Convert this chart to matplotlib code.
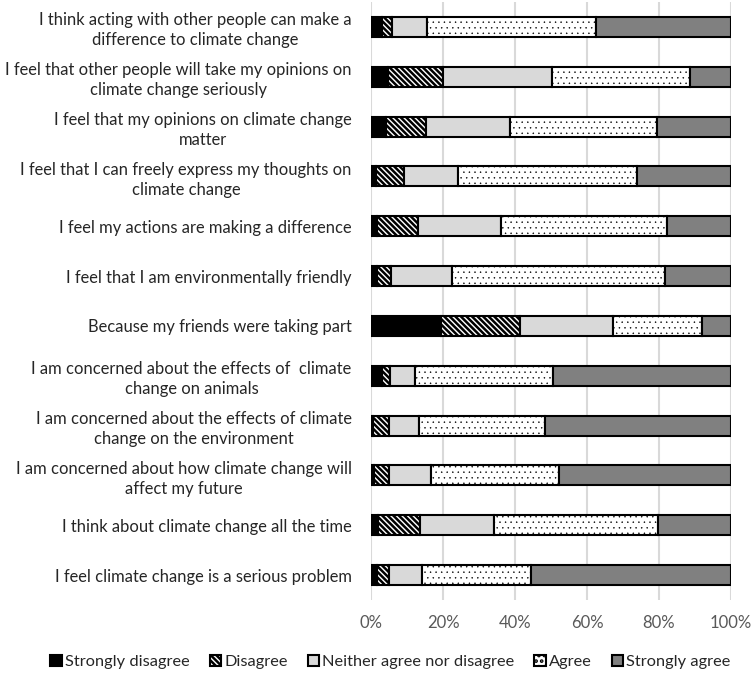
import matplotlib
matplotlib.use("Agg")
import matplotlib.pyplot as plt
import numpy as np

categories = [
    "I think acting with other people can make a\ndifference to climate change",
    "I feel that other people will take my opinions on\nclimate change seriously",
    "I feel that my opinions on climate change\nmatter",
    "I feel that I can freely express my thoughts on\nclimate change",
    "I feel my actions are making a difference",
    "I feel that I am environmentally friendly",
    "Because my friends were taking part",
    "I am concerned about the effects of  climate\nchange on animals",
    "I am concerned about the effects of climate\nchange on the environment",
    "I am concerned about how climate change will\naffect my future",
    "I think about climate change all the time",
    "I feel climate change is a serious problem",
]
series_names = ["Strongly disagree", "Disagree", "Neither agree nor disagree",
                "Agree", "Strongly agree"]
strongly_disagree = [3.0, 4.6, 4.1, 1.3, 1.8, 1.6, 19.4, 3.0, 0.5, 0.9, 2.0, 1.8]
disagree          = [2.7, 15.3, 11.1, 7.8, 11.3, 4.0, 22.0, 2.3, 4.5, 4.0, 11.6, 3.3]
neither           = [9.8, 30.5, 23.4, 15.1, 23.1, 17.0, 25.7, 6.9, 8.2, 11.9, 20.7, 9.1]
agree             = [47.1, 38.2, 40.8, 49.7, 46.1, 59.0, 24.9, 38.4, 35.2, 35.5, 45.3, 30.2]
strongly_agree    = [37.4, 11.4, 20.6, 26.1, 17.7, 18.4, 8.0, 49.4, 51.6, 47.7, 20.4, 55.6]
xticks = [0, 20, 40, 60, 80, 100]
xtick_labels = ["0%", "20%", "40%", "60%", "80%", "100%"]

plt.rcParams['font.family'] = ['Lato', 'DejaVu Sans']
plt.rcParams['hatch.linewidth'] = 1.8
plt.rcParams['hatch.color'] = 'black'

fig = plt.figure(figsize=(7.54, 6.74), dpi=100)
ax = fig.add_axes([371/754, 1 - 600/674, 360/754, 598/674])

data = [strongly_disagree, disagree, neither, agree, strongly_agree]
faces = ["black", "white", "#d9d9d9", "white", "#808080"]
hatches = [None, "\\" * 6, None, "...", None]
hatch_lw = [1.0, 1.8, 1.0, 0.3, 1.0]

y = np.arange(len(categories))
left = np.zeros(len(categories))
handles = []
for vals, fc, h, hl, name in zip(data, faces, hatches, hatch_lw, series_names):
    vals = np.array(vals)
    b = ax.barh(y, vals, left=left, height=0.4, color=fc, edgecolor="black",
                linewidth=1.5, hatch=h, label=name, zorder=3)
    for p in b.patches:
        try:
            p.set_hatch_linewidth(hl)
        except Exception:
            pass
    left = left + vals
    handles.append(b)

ax.set_ylim(len(categories) - 0.5, -0.5)
ax.set_xlim(0, 100)
ax.set_xticks(xticks)
ax.set_xticklabels(xtick_labels, fontsize=12, color="#595959")
ax.set_yticks(y)
ax.set_yticklabels(categories, fontsize=11.9, color="#262626")
for t in ax.get_yticklabels():
    t.set_multialignment("center")
    t.set_linespacing(1.3)
ax.tick_params(axis="both", length=0)
ax.tick_params(axis="y", pad=14)
ax.tick_params(axis="x", pad=11)
ax.grid(axis="x", color="#d9d9d9", linewidth=1.5, zorder=0)
for s in ax.spines.values():
    s.set_visible(False)

leg = fig.legend(handles=handles, labels=series_names, loc="center",
                 bbox_to_anchor=(0.518, 0.018), ncol=5, frameon=False,
                 fontsize=11.8, handlelength=0.7, handleheight=0.7,
                 handletextpad=0.2, columnspacing=1.2)
for t in leg.get_texts():
    t.set_color("#262626")

fig.savefig("out.png", dpi=100)
